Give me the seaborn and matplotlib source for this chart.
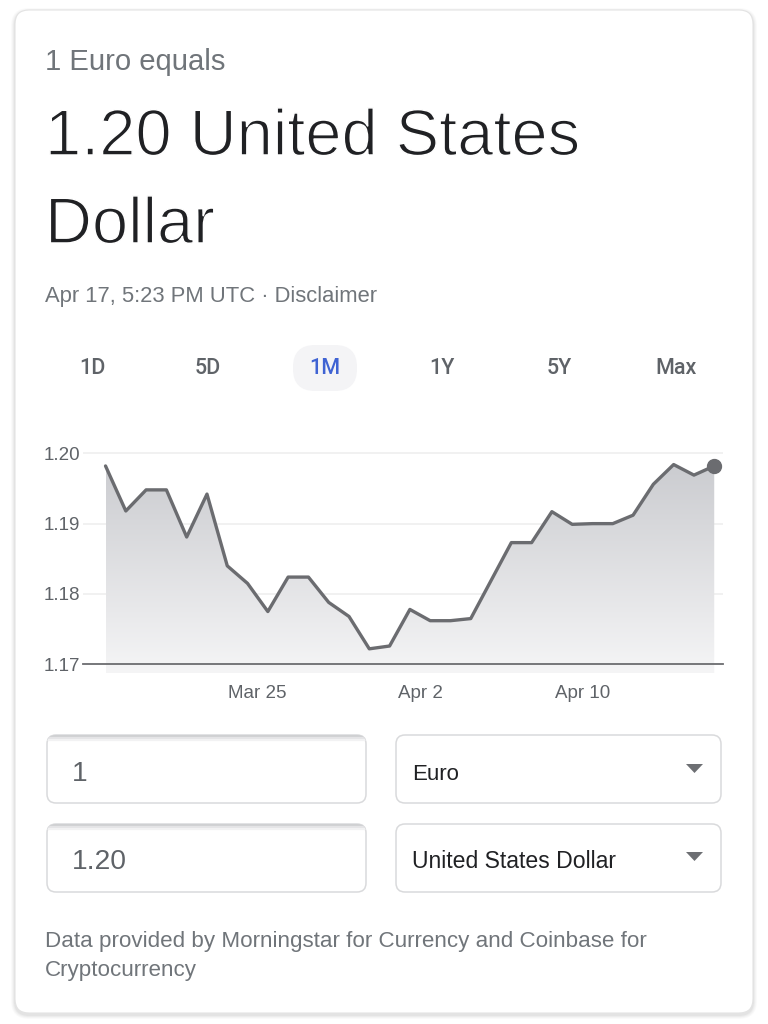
import matplotlib
matplotlib.use("Agg")
import matplotlib.pyplot as plt
import matplotlib.dates as mdates
import matplotlib.patheffects as pe
from matplotlib.patches import FancyBboxPatch, Polygon
from matplotlib.colors import LinearSegmentedColormap
import numpy as np
import pandas as pd
import seaborn as sns

# ---------------- data ----------------
start_date = "2021-03-17 12:00"
rates = [1.1982, 1.1918, 1.1948, 1.1948, 1.1881, 1.1942, 1.1840, 1.1815,
         1.1775, 1.1824, 1.1824, 1.1788, 1.1768, 1.1722, 1.1726, 1.1778,
         1.1762, 1.1762, 1.1765, 1.1819, 1.1873, 1.1873, 1.1917, 1.1899,
         1.1900, 1.1900, 1.1912, 1.1956, 1.1984, 1.1969, 1.1982]
xtick_dates = ["2021-03-25", "2021-04-02", "2021-04-10"]
xtick_labels = ["Mar 25", "Apr 2", "Apr 10"]
ytick_values = [1.17, 1.18, 1.19, 1.20]
ytick_labels = ["1.17", "1.18", "1.19", "1.20"]
tabs = ["1D", "5D", "1M", "1Y", "5Y", "Max"]
selected_tab = "1M"
header = "1 Euro equals"
title_lines = ["1.20 United States", "Dollar"]
timestamp = "Apr 17, 5:23 PM UTC \u00b7 Disclaimer"
amount_from, amount_to = "1", "1.20"
currency_from, currency_to = "Euro", "United States Dollar"
footer_lines = ["Data provided by Morningstar for Currency and Coinbase for",
                "Cryptocurrency"]

dates = pd.date_range(start_date, periods=len(rates), freq="D")
df = pd.DataFrame({"date": dates, "rate": rates})

# ---------------- style ----------------
sns.set_style("white")
plt.rcParams["font.family"] = ["Liberation Sans", "DejaVu Sans"]

W, H = 768, 1024
fig = plt.figure(figsize=(W / 100, H / 100), dpi=100)
fig.patch.set_facecolor("white")

bg = fig.add_axes([0, 0, 1, 1], zorder=0)
bg.set_xlim(0, W)
bg.set_ylim(H, 0)
bg.axis("off")

# card with soft shadow
for i, a in enumerate([0.035, 0.03, 0.025, 0.02]):
    d = i + 1
    bg.add_patch(FancyBboxPatch((15 - d, 10 - d + 2), 738 + 2 * d, 1003 + 2 * d,
                                boxstyle="round,pad=0,rounding_size=%d" % (14 + d),
                                facecolor="black", edgecolor="none", alpha=a))
bg.add_patch(FancyBboxPatch((15, 10), 738, 1003,
                            boxstyle="round,pad=0,rounding_size=14",
                            facecolor="white", edgecolor="#e3e3e3", linewidth=0.8))

renderer = fig.canvas.get_renderer()


def fit_text(x, y, s, width, **kw):
    t = bg.text(x, y, s, **kw)
    w = t.get_window_extent(renderer=renderer).width
    t.set_fontsize(t.get_fontsize() * width / w)
    return t


grey_text = "#70757a"
thin = [pe.Normal(), pe.Stroke(linewidth=1.1, foreground="white")]
fit_text(45, 70, header, 180, fontsize=20, color=grey_text, va="baseline")
tt = fit_text(45, 155, title_lines[0], 535, fontsize=46, color="#202124",
              va="baseline", path_effects=thin)
bg.text(45, 243, title_lines[1], fontsize=tt.get_fontsize(), color="#202124",
        va="baseline", path_effects=thin)
fit_text(45, 302, timestamp, 334, fontsize=14, color=grey_text, va="baseline")

# tabs
tab_x = [92, 208, 325, 442, 559, 676]
for name, x in zip(tabs, tab_x):
    if name == selected_tab:
        bg.add_patch(FancyBboxPatch((x - 32, 345), 64, 46,
                                    boxstyle="round,pad=0,rounding_size=22",
                                    facecolor="#f4f4f6", edgecolor="none"))
        col = "#3f63d3"
    else:
        col = "#5f6368"
    bg.text(x, 369, name, fontsize=15.5, color=col, ha="center", va="center",
            family=["Roboto", "DejaVu Sans"], fontweight="medium")

# input boxes
boxes = [(47, 735, 319, 68), (396, 735, 325, 68), (47, 824, 319, 68), (396, 824, 325, 68)]
for i, (x, y, w, h) in enumerate(boxes):
    p = FancyBboxPatch((x, y), w, h, boxstyle="round,pad=0,rounding_size=9",
                       facecolor="white", edgecolor="#d9dadc", linewidth=1.1)
    bg.add_patch(p)
    if i in (0, 2):
        for k, (off, c) in enumerate([(1.0, "#cfd0d2"), (3.0, "#e4e4e6"), (5.0, "#f2f2f3")]):
            ln, = bg.plot([x, x + w], [y + off, y + off], color=c, linewidth=1.6)
            ln.set_clip_path(p)

ta = fit_text(72, 869, amount_to, 55, fontsize=20, color="#5f6368", va="baseline")
bg.text(72, 781, amount_from, fontsize=ta.get_fontsize(), color="#5f6368", va="baseline")
fit_text(412, 780, currency_from, 47, fontsize=16, color="#202124", va="baseline")
fit_text(412, 868, currency_to, 205, fontsize=16, color="#202124", va="baseline")
for ty in (764, 852):
    bg.add_patch(Polygon([(686, ty), (703, ty), (694.5, ty + 9)], closed=True,
                         facecolor="#6d6f73", edgecolor="none"))

ft = fit_text(45, 947, footer_lines[0], 603, fontsize=14, color=grey_text, va="baseline")
bg.text(45, 976, footer_lines[1], fontsize=ft.get_fontsize(), color=grey_text, va="baseline")

# ---------------- chart ----------------
px_per_unit = 7033.0
y_low = 1.17 - 9.0 / px_per_unit
y_top = 1.20 + 13.3 / px_per_unit
ax_left, ax_right, ax_top, ax_bottom = 83, 723, 440, 673.3
ax = fig.add_axes([ax_left / W, 1 - ax_bottom / H, (ax_right - ax_left) / W,
                   (ax_bottom - ax_top) / H], zorder=2)
ax.patch.set_alpha(0)

line_col = "#6b6c70"
sns.lineplot(data=df, x="date", y="rate", ax=ax, color=line_col, linewidth=2.4, zorder=4)
ax.plot(df["date"].iloc[-1], df["rate"].iloc[-1], "o", color=line_col,
        markersize=10, zorder=5, clip_on=False)

xnum = mdates.date2num(df["date"])
poly = ax.fill_between(df["date"], df["rate"], y_low, facecolor="none", edgecolor="none")
cmap = LinearSegmentedColormap.from_list("g", ["#f5f5f6", "#cbccd0"])
grad = np.linspace(0, 1, 256).reshape(-1, 1)
im = ax.imshow(grad, extent=[xnum[0], xnum[-1], y_low, max(rates)], aspect="auto",
               origin="lower", cmap=cmap, zorder=1, interpolation="bicubic")
im.set_clip_path(poly.get_paths()[0], transform=ax.transData)

ref = mdates.date2num(pd.Timestamp("2021-03-25"))
ax.set_xlim(ref - (257.7 - ax_left) / 20.29, ref + (ax_right - 257.7) / 20.29)
ax.set_ylim(y_low, y_top)

ax.set_xticks(mdates.date2num(pd.to_datetime(xtick_dates)))
ax.set_xticklabels(xtick_labels)
ax.set_yticks(ytick_values)
ax.set_yticklabels(ytick_labels)
ax.set_xlabel("")
ax.set_ylabel("")

for s in ["top", "right", "left"]:
    ax.spines[s].set_visible(False)
ax.spines["bottom"].set_position(("data", 1.17))
ax.spines["bottom"].set_color(line_col)
ax.spines["bottom"].set_linewidth(1.3)
ax.tick_params(axis="x", direction="out", length=11.5, width=1.1, color=line_col,
               labelsize=13.5, labelcolor="#5f6368", pad=3.5)
ax.tick_params(axis="y", length=0, labelsize=13.5, labelcolor="#5f6368", pad=2)
for v in ytick_values[1:]:
    ax.axhline(v, color="#efefef", linewidth=1.2, zorder=0)

fig.savefig("out.png", dpi=100, facecolor=fig.get_facecolor())
